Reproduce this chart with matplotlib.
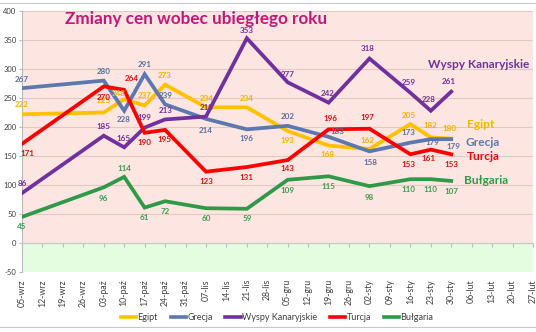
import numpy as np
import matplotlib
matplotlib.use("Agg")
import matplotlib.pyplot as plt
from matplotlib.lines import Line2D

plt.rcParams['font.family'] = ['Lato', 'DejaVu Sans']

categories = ["05-wrz", "12-wrz", "19-wrz", "26-wrz", "03-paź", "10-paź", "17-paź",
              "24-paź", "31-paź", "07-lis", "14-lis", "21-lis", "28-lis", "05-gru",
              "12-gru", "19-gru", "26-gru", "02-sty", "09-sty", "16-sty", "23-sty",
              "30-sty", "06-lut", "13-lut", "20-lut", "27-lut"]
N = None
egipt =    [222, N, N, N, 225, 248, 237, 273, N, 234, N, 234, N, 193, N, 168, N, 162, N, 205, 182, 180, N, N, N, N]
grecja =   [267, N, N, N, 280, 228, 291, 239, N, 214, N, 196, N, 202, N, 183, N, 158, N, 173, 179, 179, N, N, N, N]
wyspy =    [86,  N, N, N, 185, 165, 199, 213, N, 218, N, 353, N, 277, N, 242, N, 318, N, 259, 228, 261, N, N, N, N]
turcja =   [171, N, N, N, 270, 264, 190, 195, N, 123, N, 131, N, 143, N, 196, N, 197, N, 153, 161, 153, N, N, N, N]
bulgaria = [45,  N, N, N, 96, 114, 61, 72, N, 60, N, 59, N, 109, N, 115, N, 98, N, 110, 110, 107, N, N, N, N]

series_names = ["Egipt", "Grecja", "Wyspy Kanaryjskie", "Turcja", "Bułgaria"]
y_ticks = [-50, 0, 50, 100, 150, 200, 250, 300, 350, 400]

# style
line_colors = ["#FFC000", "#5B78B0", "#7030A0", "#FF0000", "#2E9A48"]
label_colors = ["#F5B000", "#5A6FA0", "#7030A0", "#E01010", "#3A9A50"]
name_colors = ["#F5B800", "#5A78B0", "#7030A0", "#E01010", "#2E9A48"]
offsets = [
    [(0, 10), (0, 12), (-6, 6), (0, 10), (0, 9), (1, 9), (0, 9), (0, -9), (-1, -9), (-2, 9), (-2, 9), (0, 12), (-2, 10)],
    [(0, 9), (0, 9), (-1, -9), (0, 10), (1, 9), (0, -12), (0, -9), (0, 9), (9, 5), (1, -11), (-2, 10), (2, -3), (2, -7)],
    [(0, 10), (0, 9), (-1, 9), (0, 10), (1, 9), (1, 9), (0, 8), (0, 8), (-1, 9), (-2, 10), (-2, 10), (-2, 11), (-2, 10)],
    [(5, -10), (0, -11), (8, 11), (0, -10), (-1, -10), (0, -10), (0, -10), (0, -8), (2, 11), (-2, 11), (-2, -10), (-2, -9), (0, -10)],
    [(0, -10), (0, -11), (0, 8), (0, -10), (0, -10), (0, -10), (0, -10), (0, -11), (0, -10), (0, -11), (-2, -10), (0, -10), (0, -11)],
]
name_pos = [(467, 125), (465, 142), (428, 64), (467, 157), (464, 180)]

W, H = 536, 332
fig = plt.figure(figsize=(W / 100, H / 100), dpi=100)
ax = fig.add_axes([22 / W, 1 - 272 / H, (533 - 22) / W, (272 - 11) / H])

ax.set_xlim(0, len(categories) - 1)
ax.set_ylim(-50, 400)
ax.axhspan(0, 400, color="#FDE5E1", zorder=0)
ax.axhspan(-50, 0, color="#E4FCDF", zorder=0)
for yv in y_ticks:
    if yv not in (-50, 0):
        ax.axhline(yv, color="#E2C9C2", lw=0.8, zorder=1)
ax.axhline(-50, color="#D5E8D0", lw=0.8, zorder=1)
ax.axhline(0, color="#C8C8C8", lw=0.8, zorder=1)

all_series = [egipt, grecja, wyspy, turcja, bulgaria]
for vals, lc, tc, offs in zip(all_series, line_colors, label_colors, offsets):
    xs = [i for i, v in enumerate(vals) if v is not None]
    ys = [v for v in vals if v is not None]
    ax.plot(xs, ys, color=lc, lw=2.7, zorder=3, solid_joinstyle='miter')
    for (x, y), (dx, dy) in zip(zip(xs, ys), offs):
        ax.annotate(str(y), (x, y), xytext=(dx, dy), textcoords='offset pixels',
                    ha='center', va='center', fontsize=5.8, fontweight='bold',
                    color=tc, zorder=4)

for name, (px, py), c in zip(series_names, name_pos, name_colors):
    fig.text(px / W, 1 - py / H, name, ha='left', va='center', fontsize=8.6,
             fontweight='bold', color=c)

fig.text(65 / W, 1 - 19 / H, "Zmiany cen wobec ubiegłego roku", ha='left', va='center',
         fontsize=12.3, fontweight='bold', color="#C4177A")

# axes styling
for s in ['top', 'right']:
    ax.spines[s].set_visible(False)
ax.spines['left'].set_color("#BBBBBB")
ax.spines['left'].set_linewidth(0.8)
ax.spines['bottom'].set_position(('data', 0))
ax.spines['bottom'].set_color("#C8C8C8")
ax.spines['bottom'].set_linewidth(0.8)
ax.set_yticks(y_ticks)
ax.set_yticklabels([str(v) for v in y_ticks])
ax.tick_params(axis='y', labelsize=5.5, length=2.5, color="#BBBBBB", labelcolor="#404040", pad=1.5)
ax.set_xticks(range(len(categories)))
ax.set_xticklabels(categories, rotation=90)
ax.tick_params(axis='x', labelsize=6.3, length=3, color="#BBBBBB", labelcolor="#404040", pad=23)

handles = [Line2D([], [], color=c, lw=2.6) for c in line_colors]
fig.legend(handles, series_names, loc='center', bbox_to_anchor=(277 / W, 1 - 318 / H),
           ncol=5, frameon=False, fontsize=6.5, handlelength=1.7, handletextpad=0.15,
           columnspacing=1.4, labelcolor="#404040")

fig.add_artist(Line2D([0, 1], [1 - 3 / H, 1 - 3 / H], color="#C8C8C8", lw=0.8))
fig.add_artist(Line2D([0, 1], [1 - 327 / H, 1 - 327 / H], color="#C8C8C8", lw=0.8))

fig.savefig("out.png", dpi=100)
